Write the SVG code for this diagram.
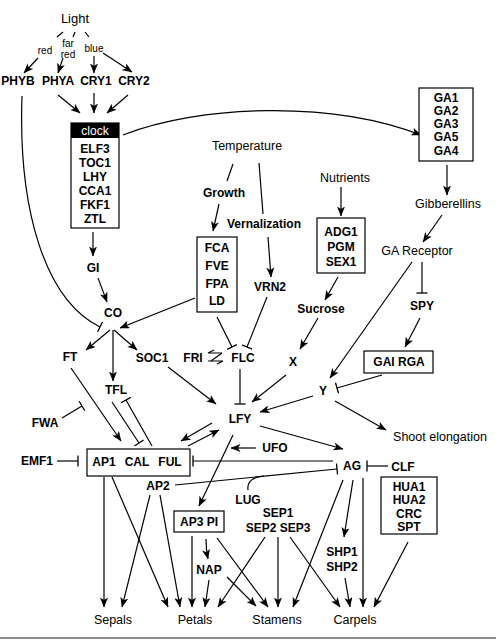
<svg xmlns="http://www.w3.org/2000/svg" width="497" height="640" viewBox="0 0 497 640">
<style>
text{font-family:"Liberation Sans",Arial,sans-serif;text-anchor:middle;dominant-baseline:central;fill:#000}
.g{font-weight:bold;font-size:12px}
.r{font-size:12.5px}
.s{font-size:10px}
.box{fill:#fff;stroke:#000;stroke-width:1.2}
#edges line,#edges path,#edges polyline{fill:none;stroke:#000;stroke-width:1.2}
.a{marker-end:url(#ah)}
.t{marker-end:url(#bar)}
</style>
<defs>
<marker id="ah" viewBox="0 0 10 8" refX="9.5" refY="4" markerWidth="10" markerHeight="8" markerUnits="userSpaceOnUse" orient="auto"><path d="M0,0 L10,4 L0,8 L2.5,4 z" fill="#000"/></marker>
<marker id="bar" viewBox="-1 -6 2 12" refX="0" refY="0" markerWidth="2" markerHeight="12" markerUnits="userSpaceOnUse" orient="auto"><path d="M0,-5.5 V5.5" stroke="#000" stroke-width="1.3"/></marker>
</defs>
<rect width="497" height="640" fill="#fff"/>

<g id="edges">
<line x1="63" y1="32" x2="57" y2="37"/>
<line x1="75" y1="32" x2="73" y2="37"/>
<line x1="85" y1="32" x2="89" y2="37"/>
<line class="a" x1="38" y1="58" x2="24" y2="73"/>
<line class="a" x1="63" y1="58" x2="58" y2="73"/>
<line class="a" x1="94" y1="56" x2="94" y2="73"/>
<line class="a" x1="103" y1="53" x2="132" y2="72"/>
<line class="a" x1="58" y1="95" x2="80" y2="113"/>
<line class="a" x1="94" y1="93" x2="94" y2="113"/>
<line class="a" x1="128" y1="95" x2="107" y2="113"/>
<path class="a" d="M123,135 C200,105 330,100 421,135"/>
<path class="t" d="M22,96 C18,210 45,300 100,327"/>
<line class="a" x1="93" y1="232" x2="93" y2="256"/>
<line class="a" x1="98" y1="278" x2="107" y2="302"/>
<line class="a" x1="195" y1="298" x2="120" y2="328"/>
<line class="a" x1="110" y1="330" x2="86" y2="350"/>
<line class="a" x1="114" y1="330" x2="137" y2="350"/>
<line class="a" x1="113" y1="330" x2="113" y2="381"/>
<line x1="233" y1="164" x2="227" y2="181"/>
<line x1="259" y1="163" x2="263" y2="214"/>
<line class="a" x1="219" y1="204" x2="213" y2="231"/>
<line class="a" x1="268" y1="237" x2="271" y2="277"/>
<line class="t" x1="217" y1="317" x2="232" y2="347"/>
<line class="t" x1="267" y1="297" x2="247" y2="347"/>
<polyline points="214,350 208,353 222,353"/>
<polyline points="208,361 223,361 217,364"/>
<line x1="222" y1="353" x2="211" y2="361"/>
<line class="t" x1="240" y1="369" x2="240" y2="404"/>
<line class="a" x1="168" y1="367" x2="216" y2="404"/>
<line class="a" x1="286" y1="375" x2="252" y2="402"/>
<line class="a" x1="341" y1="187" x2="341" y2="216"/>
<line class="a" x1="338" y1="277" x2="325" y2="300"/>
<line class="a" x1="318" y1="318" x2="300" y2="349"/>
<line class="a" x1="447" y1="165" x2="447" y2="195"/>
<line class="a" x1="442" y1="215" x2="423" y2="242"/>
<line class="t" x1="422" y1="262" x2="422" y2="293"/>
<line class="a" x1="420" y1="318" x2="405" y2="347"/>
<line class="a" x1="412" y1="262" x2="330" y2="378"/>
<line class="t" x1="382" y1="375" x2="337" y2="388"/>
<line class="a" x1="313" y1="396" x2="260" y2="412"/>
<line class="a" x1="335" y1="401" x2="386" y2="430"/>
<line class="a" x1="260" y1="426" x2="343" y2="449"/>
<line class="a" x1="256" y1="448" x2="231" y2="448"/>
<line class="a" x1="212" y1="423" x2="181" y2="441"/>
<line class="a" x1="188" y1="446" x2="219" y2="430"/>
<line class="a" x1="233" y1="435" x2="199" y2="506"/>
<line class="t" x1="333" y1="461" x2="193" y2="461"/>
<line class="t" x1="175" y1="485" x2="337" y2="469"/>
<path d="M248,490 C247,482 252,477 264,476"/>
<line class="t" x1="388" y1="466" x2="367" y2="466"/>
<line class="t" x1="112" y1="402" x2="139" y2="443"/>
<line class="t" x1="152" y1="446" x2="126" y2="400"/>
<line class="a" x1="71" y1="368" x2="121" y2="441"/>
<line class="t" x1="62" y1="418" x2="82" y2="406"/>
<line class="t" x1="57" y1="461" x2="78" y2="461"/>
<line class="a" x1="104" y1="477" x2="104" y2="607"/>
<line class="a" x1="150" y1="495" x2="122" y2="607"/>
<line class="a" x1="112" y1="477" x2="168" y2="607"/>
<line class="a" x1="160" y1="495" x2="180" y2="607"/>
<line class="a" x1="192" y1="536" x2="192" y2="607"/>
<line class="a" x1="209" y1="580" x2="205" y2="607"/>
<line class="a" x1="265" y1="537" x2="218" y2="607"/>
<line class="a" x1="217" y1="538" x2="268" y2="607"/>
<line class="a" x1="227" y1="577" x2="256" y2="606"/>
<line class="a" x1="278" y1="537" x2="278" y2="607"/>
<line class="a" x1="343" y1="480" x2="293" y2="607"/>
<line class="a" x1="290" y1="537" x2="340" y2="607"/>
<line class="a" x1="345" y1="578" x2="350" y2="607"/>
<line class="a" x1="363" y1="478" x2="363" y2="607"/>
<line class="a" x1="408" y1="542" x2="374" y2="607"/>
<line class="a" x1="353" y1="480" x2="344" y2="537"/>
<path class="a" d="M206,539 Q206,550 208,559"/>
</g>

<g id="light"><text class="r" x="75" y="18" style="font-size:13px">Light</text></g>
<g id="red"><text class="s" x="45" y="50">red</text></g>
<g id="farred"><text class="s" x="68" y="43">far</text><text class="s" x="68" y="54">red</text></g>
<g id="blue"><text class="s" x="94" y="48">blue</text></g>
<g id="phyb"><text class="g" x="18" y="81">PHYB</text></g>
<g id="phya"><text class="g" x="58" y="81">PHYA</text></g>
<g id="cry1"><text class="g" x="96" y="81">CRY1</text></g>
<g id="cry2"><text class="g" x="134" y="81">CRY2</text></g>

<g id="clock">
<rect class="box" x="71" y="123" width="48" height="105"/>
<rect x="71" y="123" width="48" height="15" fill="#000"/>
<text x="95" y="131" style="font-size:12px;fill:#fff">clock</text>
<text class="g" x="95" y="149">ELF3</text>
<text class="g" x="95" y="163">TOC1</text>
<text class="g" x="95" y="177">LHY</text>
<text class="g" x="95" y="191">CCA1</text>
<text class="g" x="95" y="205">FKF1</text>
<text class="g" x="95" y="219">ZTL</text>
</g>
<g id="gi"><text class="g" x="93" y="268">GI</text></g>
<g id="co"><text class="g" x="113" y="313">CO</text></g>
<g id="ft"><text class="g" x="70" y="357">FT</text></g>
<g id="soc1"><text class="g" x="152" y="358">SOC1</text></g>
<g id="tfl"><text class="g" x="116" y="390">TFL</text></g>
<g id="fwa"><text class="g" x="45" y="423">FWA</text></g>
<g id="emf1"><text class="g" x="37" y="461">EMF1</text></g>
<g id="ap1">
<rect class="box" x="87" y="449" width="103" height="27"/>
<text class="g" x="104" y="462">AP1</text>
<text class="g" x="137" y="462">CAL</text>
<text class="g" x="170" y="462">FUL</text>
</g>
<g id="ap2"><text class="g" x="158" y="486">AP2</text></g>

<g id="temperature"><text class="r" x="247" y="146">Temperature</text></g>
<g id="growth"><text class="g" x="224" y="193">Growth</text></g>
<g id="vernalization"><text class="g" x="264" y="224">Vernalization</text></g>
<g id="fca">
<rect class="box" x="197" y="237" width="40" height="75"/>
<text class="g" x="217" y="248">FCA</text>
<text class="g" x="217" y="266">FVE</text>
<text class="g" x="217" y="284">FPA</text>
<text class="g" x="217" y="301">LD</text>
</g>
<g id="vrn2"><text class="g" x="270" y="287">VRN2</text></g>
<g id="fri"><text class="g" x="193" y="358">FRI</text></g>
<g id="flc"><text class="g" x="243" y="358">FLC</text></g>
<g id="lfy"><text class="g" x="240" y="419">LFY</text></g>
<g id="ufo"><text class="g" x="275" y="448">UFO</text></g>

<g id="nutrients"><text class="r" x="345" y="178">Nutrients</text></g>
<g id="adg1">
<rect class="box" x="317" y="218" width="48" height="55"/>
<text class="g" x="341" y="232">ADG1</text>
<text class="g" x="341" y="247">PGM</text>
<text class="g" x="341" y="262">SEX1</text>
</g>
<g id="sucrose"><text class="g" x="321" y="309">Sucrose</text></g>
<g id="x"><text class="g" x="293" y="362">X</text></g>
<g id="y"><text class="g" x="323" y="391">Y</text></g>

<g id="ga">
<rect class="box" x="419" y="88" width="54" height="73"/>
<text class="g" x="446" y="98">GA1</text>
<text class="g" x="446" y="111">GA2</text>
<text class="g" x="446" y="124">GA3</text>
<text class="g" x="446" y="137">GA5</text>
<text class="g" x="446" y="151">GA4</text>
</g>
<g id="gibberellins"><text class="r" x="448" y="204">Gibberellins</text></g>
<g id="gareceptor"><text class="r" x="417" y="251">GA Receptor</text></g>
<g id="spy"><text class="g" x="422" y="306">SPY</text></g>
<g id="gairga">
<rect class="box" x="364" y="351" width="69" height="22"/>
<text class="g" x="399" y="362">GAI  RGA</text>
</g>
<g id="shoot"><text class="r" x="440" y="437">Shoot elongation</text></g>

<g id="ag"><text class="g" x="352" y="466">AG</text></g>
<g id="clf"><text class="g" x="403" y="467">CLF</text></g>
<g id="hua">
<rect class="box" x="381" y="477" width="56" height="57"/>
<text class="g" x="409" y="487">HUA1</text>
<text class="g" x="409" y="500">HUA2</text>
<text class="g" x="409" y="514">CRC</text>
<text class="g" x="409" y="527">SPT</text>
</g>
<g id="lug"><text class="g" x="248" y="500">LUG</text></g>
<g id="ap3pi">
<rect class="box" x="174" y="511" width="50" height="21"/>
<text class="g" x="199" y="522">AP3  PI</text>
</g>
<g id="sep">
<text class="g" x="278" y="513">SEP1</text>
<text class="g" x="278" y="528">SEP2 SEP3</text>
</g>
<g id="nap"><text class="g" x="209" y="570">NAP</text></g>
<g id="shp">
<text class="g" x="342" y="552">SHP1</text>
<text class="g" x="342" y="567">SHP2</text>
</g>
<g id="sepals"><text class="r" x="113" y="620">Sepals</text></g>
<g id="petals"><text class="r" x="195" y="620">Petals</text></g>
<g id="stamens"><text class="r" x="277" y="620">Stamens</text></g>
<g id="carpels"><text class="r" x="355" y="620">Carpels</text></g>
<line x1="0" y1="638" x2="496" y2="638" stroke="#666" stroke-width="1.5"/>
</svg>
